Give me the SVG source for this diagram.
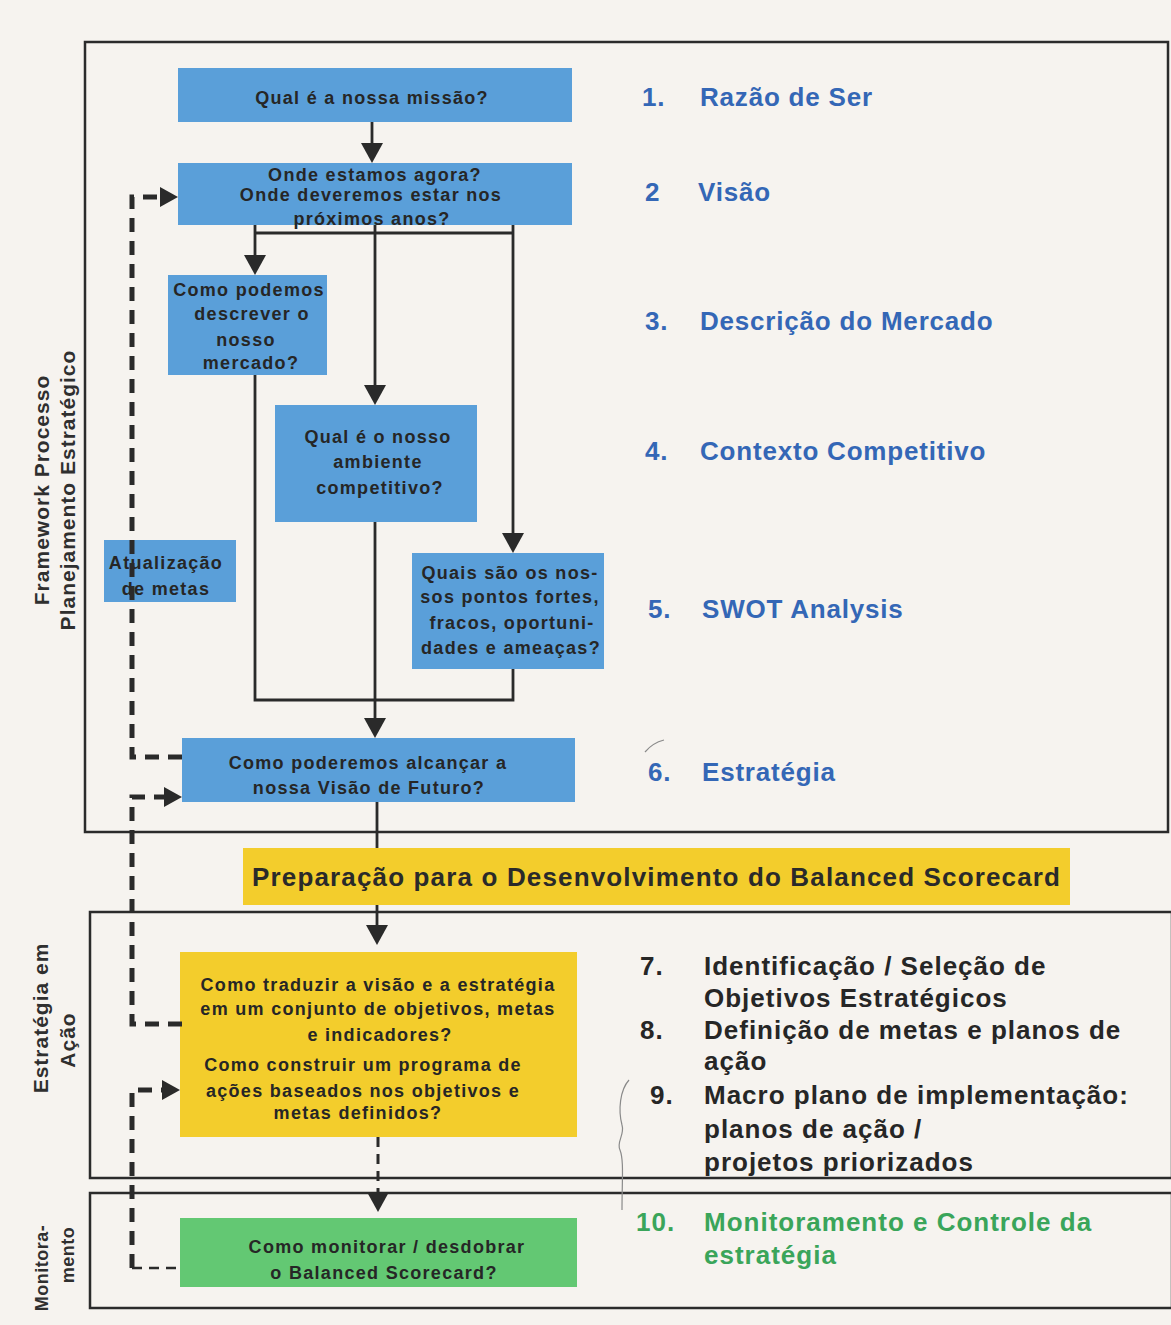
<svg xmlns="http://www.w3.org/2000/svg" width="1171" height="1325" viewBox="0 0 1171 1325">
<defs>
<style>
.bg{fill:#f6f3ef}
.frame{fill:none;stroke:#2b2b2b;stroke-width:2.5}
.blue{fill:#5a9fd9}
.yel{fill:#f3cd2c}
.grn{fill:#63c873}
.bt{font-family:"Liberation Sans",Arial,sans-serif;font-weight:bold;font-size:18px;letter-spacing:1.3px;fill:#262626;text-anchor:middle}
.side{font-family:"Liberation Sans",Arial,sans-serif;font-weight:bold;font-size:21px;letter-spacing:1px;fill:#2f2f2f;text-anchor:middle}
.rb{font-family:"Liberation Sans",Arial,sans-serif;font-weight:bold;font-size:26px;letter-spacing:0.8px;fill:#3467b6}
.rk{font-family:"Liberation Sans",Arial,sans-serif;font-weight:bold;font-size:26px;letter-spacing:1px;fill:#262626}
.rg{font-family:"Liberation Sans",Arial,sans-serif;font-weight:bold;font-size:26px;letter-spacing:1px;fill:#3aa55a}
.ban{font-family:"Liberation Sans",Arial,sans-serif;font-weight:bold;font-size:26px;fill:#2a2a2a}
.ln{fill:none;stroke:#2a2a2a;stroke-width:2.8}
.ah{fill:#2a2a2a}
.dash{fill:none;stroke:#2a2a2a;stroke-width:5;stroke-dasharray:14 9}
.dashthin{fill:none;stroke:#2a2a2a;stroke-width:2.5;stroke-dasharray:10 7}
.pen{fill:none;stroke:#8a8a8a;stroke-width:1.2}
</style>
</defs>
<rect class="bg" x="0" y="0" width="1171" height="1325"/>

<g id="frames">
<rect class="frame" x="85" y="42" width="1083" height="790"/>
<rect class="frame" x="90" y="912" width="1082" height="266"/>
<rect class="frame" x="90" y="1193" width="1082" height="115"/>
</g>

<g id="side-labels">
<text class="side" transform="translate(49,490) rotate(-90)">Framework Processo</text>
<text class="side" transform="translate(75,490) rotate(-90)">Planejamento Estratégico</text>
<text class="side" transform="translate(48,1018) rotate(-90)">Estratégia em</text>
<text class="side" transform="translate(75,1040) rotate(-90)">Ação</text>
<text class="side" style="font-size:18px;letter-spacing:0.5px" transform="translate(48,1268) rotate(-90)">Monitora-</text>
<text class="side" style="font-size:18px;letter-spacing:0.5px" transform="translate(74,1255) rotate(-90)">mento</text>
</g>

<g id="n1"><rect class="blue" x="178" y="68" width="394" height="54"/>
<text class="bt" x="372" y="104">Qual é a nossa missão?</text></g>

<g id="n2"><rect class="blue" x="178" y="163" width="394" height="62"/>
<text class="bt" x="375" y="181">Onde estamos agora?</text>
<text class="bt" x="371" y="201">Onde deveremos estar nos</text>
<text class="bt" x="372" y="225">próximos anos?</text></g>

<g id="n3"><rect class="blue" x="168" y="275" width="159" height="100"/>
<text class="bt" x="249" y="296">Como podemos</text>
<text class="bt" x="252" y="320">descrever o</text>
<text class="bt" x="246" y="346">nosso</text>
<text class="bt" x="251" y="369">mercado?</text></g>

<g id="n4"><rect class="blue" x="275" y="405" width="202" height="117"/>
<text class="bt" x="378" y="443">Qual é o nosso</text>
<text class="bt" x="378" y="468">ambiente</text>
<text class="bt" x="380" y="494">competitivo?</text></g>

<g id="n5"><rect class="blue" x="104" y="540" width="132" height="62"/>
<text class="bt" x="166" y="569">Atualização</text>
<text class="bt" x="166" y="595">de metas</text></g>

<g id="n6"><rect class="blue" x="412" y="553" width="192" height="116"/>
<text class="bt" x="510" y="579">Quais são os nos-</text>
<text class="bt" x="510" y="603">sos pontos fortes,</text>
<text class="bt" x="512" y="629">fracos, oportuni-</text>
<text class="bt" x="511" y="654">dades e ameaças?</text></g>

<g id="n7"><rect class="blue" x="182" y="738" width="393" height="64"/>
<text class="bt" x="368" y="769">Como poderemos alcançar a</text>
<text class="bt" x="369" y="794">nossa Visão de Futuro?</text></g>

<g id="banner"><rect class="yel" x="243" y="848" width="827" height="57"/>
<text class="ban" x="252" y="886" textLength="808">Preparação para o Desenvolvimento do Balanced Scorecard</text></g>

<g id="n8"><rect class="yel" x="180" y="952" width="397" height="185"/>
<text class="bt" x="378" y="991">Como traduzir a visão e a estratégia</text>
<text class="bt" x="378" y="1015">em um conjunto de objetivos, metas</text>
<text class="bt" x="380" y="1041">e indicadores?</text>
<text class="bt" x="363" y="1071">Como construir um programa de</text>
<text class="bt" x="363" y="1097">ações baseados nos objetivos e</text>
<text class="bt" x="358" y="1119">metas definidos?</text></g>

<g id="n9"><rect class="grn" x="180" y="1218" width="397" height="69"/>
<text class="bt" x="387" y="1253">Como monitorar / desdobrar</text>
<text class="bt" x="384" y="1279">o Balanced Scorecard?</text></g>

<g id="connectors">
<path class="ln" d="M372 122 V145"/>
<polygon class="ah" points="361,143 383,143 372,163"/>
<path class="ln" d="M255 225 V257 M375 225 V387 M513 225 V535 M255 233 H513"/>
<polygon class="ah" points="244,255 266,255 255,275"/>
<polygon class="ah" points="364,385 386,385 375,405"/>
<polygon class="ah" points="502,533 524,533 513,553"/>
<path class="ln" d="M255 375 V700 H513 V669"/>
<path class="ln" d="M375 522 V720"/>
<polygon class="ah" points="364,718 386,718 375,738"/>
<path class="ln" d="M377 802 V848 M377 905 V927"/>
<polygon class="ah" points="366,925 388,925 377,945"/>
<path class="dashthin" d="M378 1137 V1194" style="stroke-width:3"/>
<polygon class="ah" points="367,1192 389,1192 378,1212"/>
<path class="dash" d="M182 757 H132 V197 H160"/>
<polygon class="ah" points="160,187 178,197 160,207"/>
<path class="dash" d="M182 1024 H132 V797 H164"/>
<polygon class="ah" points="164,787 182,797 164,807"/>
<path class="dash" d="M132 1268 V1090 H162"/>
<path class="dashthin" d="M132 1268 H182"/>
<polygon class="ah" points="162,1080 180,1090 162,1100"/>
</g>

<g id="steps">
<text class="rb" x="642" y="106">1.</text><text class="rb" x="700" y="106">Razão de Ser</text>
<text class="rb" x="645" y="201">2</text><text class="rb" x="698" y="201">Visão</text>
<text class="rb" x="645" y="330">3.</text><text class="rb" x="700" y="330">Descrição do Mercado</text>
<text class="rb" x="645" y="460">4.</text><text class="rb" x="700" y="460">Contexto Competitivo</text>
<text class="rb" x="648" y="618">5.</text><text class="rb" x="702" y="618">SWOT Analysis</text>
<text class="rb" x="648" y="781">6.</text><text class="rb" x="702" y="781">Estratégia</text>
<text class="rk" x="640" y="975">7.</text><text class="rk" x="704" y="975">Identificação / Seleção de</text>
<text class="rk" x="704" y="1007">Objetivos Estratégicos</text>
<text class="rk" x="640" y="1039">8.</text><text class="rk" x="704" y="1039">Definição de metas e planos de</text>
<text class="rk" x="704" y="1070">ação</text>
<text class="rk" x="650" y="1104">9.</text><text class="rk" x="704" y="1104">Macro plano de implementação:</text>
<text class="rk" x="704" y="1138">planos de ação /</text>
<text class="rk" x="704" y="1171">projetos priorizados</text>
<text class="rg" x="636" y="1231">10.</text><text class="rg" x="704" y="1231">Monitoramento e Controle da</text>
<text class="rg" x="704" y="1264">estratégia</text>
</g>

<g id="pen-marks">
<path class="pen" d="M629 1080 C620 1090 618 1110 622 1125 C625 1135 616 1142 620 1150 C624 1160 622 1180 622 1210"/>
<path class="pen" d="M645 752 C650 746 656 742 664 740"/>
</g>
</svg>
